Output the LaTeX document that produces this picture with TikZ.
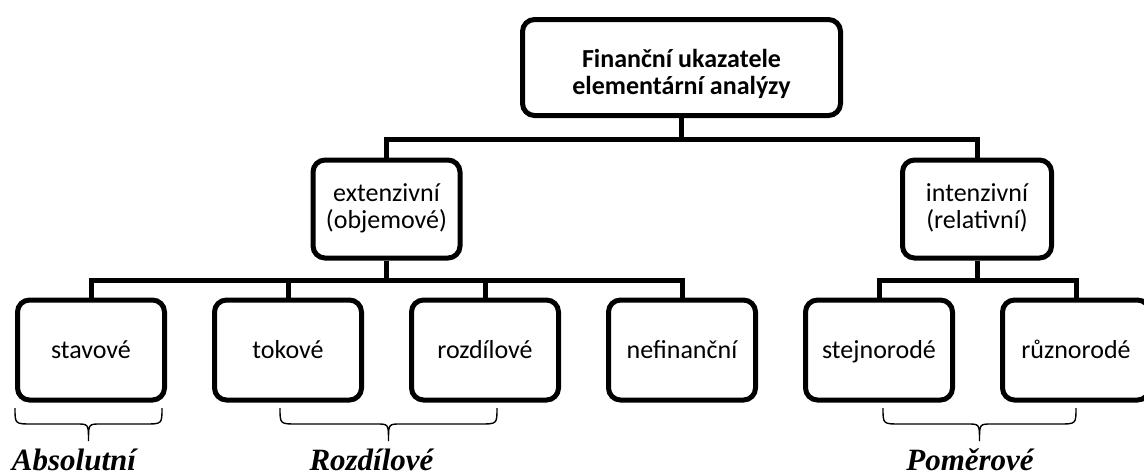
\documentclass[tikz,border=0pt]{standalone}
\usepackage{fontspec}
\setmainfont{Carlito}
\newfontfamily\serifbi{Liberation Serif}
\begin{document}
\begin{tikzpicture}[x=1pt,y=-1pt,
  box/.style={draw, line width=5pt, rounded corners=12pt, fill=white,
    minimum width=147pt, minimum height=100pt, inner sep=0pt, align=center,
    text height=18pt, text depth=2pt,
    font=\fontsize{26}{26.5}\selectfont},
  twoline/.style={text height=40pt, text depth=2pt},
  conn/.style={line width=5pt, line join=miter},
  grp/.style={line width=1.4pt},
  grouplabel/.style={anchor=base, inner sep=0pt,
    font=\serifbi\bfseries\itshape\fontsize{31}{31}\selectfont}]
\useasboundingbox (0,0) rectangle (1144,475);

% root
\node[box, minimum width=318pt, minimum height=96pt, text height=55pt, text depth=2pt,
  font=\bfseries\fontsize{26}{27}\selectfont] (root) at (681.5,67.5)
  {Finanční ukazatele\\elementární analýzy};

% second level
\node[box, twoline, minimum height=98pt] (ext) at (386.5,209) {extenzivní\\(objemové)};
\node[box, twoline, minimum width=149pt, minimum height=98pt] (int) at (977,209) {intenzivní\\(relativní)};

% third level
\node[box] (stav)  at (91,350)   {stavové};
\node[box] (tok)   at (288,350)  {tokové};
\node[box] (rozd)  at (485,350)  {rozdílové};
\node[box] (nefin) at (682,350)  {nefinanční};
\node[box] (stejn) at (879,350)  {stejnorodé};
\node[box] (ruzn)  at (1076,350) {různorodé};

% bus lines
\coordinate (busA) at (0,139);
\coordinate (busB) at (0,280);
\draw[conn] (root.south) -- (root.south |- busA);
\draw[conn] (ext.north) |- (int.north |- busA) -- (int.north);
\draw[conn] (ext.south) -- (ext.south |- busB);
\draw[conn] (stav.north) |- (nefin.north |- busB) -- (nefin.north);
\draw[conn] (tok.north) -- (tok.north |- busB);
\draw[conn] (rozd.north) -- (rozd.north |- busB);
\draw[conn] (int.south) -- (int.south |- busB);
\draw[conn] (stejn.north) |- (ruzn.north |- busB) -- (ruzn.north);

% curly braces grouping the indicators
\foreach \xa/\xb in {15/162, 280/497, 883/1076} {
  \pgfmathsetmacro\xm{(\xa+\xb)/2}
  \draw[grp] (\xa,408) .. controls (\xa,424) and (\xa,424) .. (\xa+17,424)
    -- (\xm-12,424) .. controls (\xm,424) and (\xm,424) .. (\xm,441)
    .. controls (\xm,424) and (\xm,424) .. (\xm+12,424)
    -- (\xb-17,424) .. controls (\xb,424) and (\xb,424) .. (\xb,408);
}

% group labels
\node[grouplabel] (absl) at (74,470)    {Absolutní};
\node[grouplabel] (rozl) at (371.5,470) {Rozdílové};
\node[grouplabel] (poml) at (970,470)   {Poměrové};
\end{tikzpicture}
\end{document}
